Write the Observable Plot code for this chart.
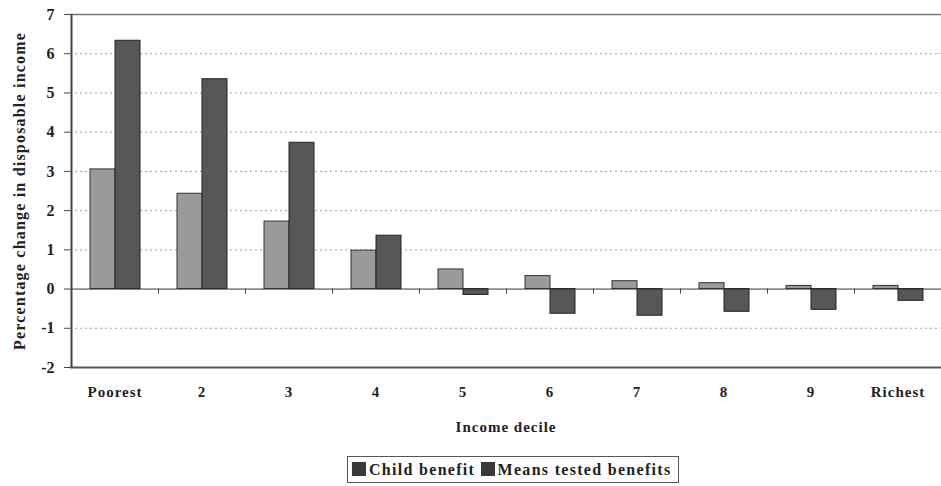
<!DOCTYPE html>
<html>
<head>
<meta charset="utf-8">
<script src="https://cdn.jsdelivr.net/npm/d3@7"></script>
<script src="https://cdn.jsdelivr.net/npm/@observablehq/plot@0.6"></script>
<style>
  html, body { margin: 0; padding: 0; background: #fff; }
  #chart svg { display: block; }
  #chart svg text { font-family: "Liberation Serif", serif; font-weight: bold; fill: #222; }
  #chart svg g[aria-label="y-axis tick label"] text { font-size: 16px; }
  #chart svg g[aria-label="y-axis label"] text { font-size: 16px; letter-spacing: 1.2px; }
  #chart svg g[aria-label="x-axis tick label"] text { font-size: 15px; letter-spacing: 1px; }
  #chart svg g[aria-label="x-axis label"] text { font-size: 15px; letter-spacing: 1px; }
  .legend {
    position: absolute; left: 347px; top: 456px;
    border: 1px solid #555; padding: 2px 6px 2px 4px;
    font-family: "Liberation Serif", serif; font-weight: bold; font-size: 16px;
    letter-spacing: 1.3px; color: #222; white-space: nowrap; line-height: 21px;
  }
  .legend .sw { display: inline-block; width: 14px; height: 14px; background: #3a3a3a; vertical-align: -1px; margin-right: 3px; }
</style>
</head>
<body>
<div id="chart"></div>
<div class="legend"><span class="sw"></span>Child benefit <span class="sw"></span>Means tested benefits</div>
<script>
const deciles = ["Poorest", "2", "3", "4", "5", "6", "7", "8", "9", "Richest"];
const childBenefit = [3.05, 2.43, 1.72, 0.98, 0.5, 0.33, 0.2, 0.15, 0.08, 0.08];
const meansTested = [6.33, 5.35, 3.73, 1.36, -0.15, -0.63, -0.68, -0.58, -0.53, -0.3];
const yTicks = [-2, -1, 0, 1, 2, 3, 4, 5, 6, 7];
const gridTicks = [-1, 1, 2, 3, 4, 5, 6];

const child = deciles.map((d, i) => ({decile: d, value: childBenefit[i]}));
const means = deciles.map((d, i) => ({decile: d, value: meansTested[i]}));

const chart = Plot.plot({
  width: 941,
  height: 448,
  marginLeft: 70,
  marginRight: 0,
  marginTop: 14,
  marginBottom: 81,
  style: {fontFamily: "Liberation Serif, serif", fontSize: "15px", fontWeight: "bold", color: "#222", background: "#fff"},
  x: {domain: deciles, padding: 0},
  y: {domain: [-2, 7]},
  marks: [
    Plot.gridY(gridTicks, {stroke: "#888", strokeOpacity: 0.8, strokeDasharray: "2,3"}),
    Plot.ruleY([7], {stroke: "#777", strokeWidth: 1.5}),
    Plot.ruleY([-2], {stroke: "#555", strokeWidth: 2}),
    Plot.barY(child, {x: "decile", y: "value", fill: "#9a9a9a", stroke: "#333", strokeWidth: 1, insetLeft: 19, insetRight: 43}),
    Plot.barY(means, {x: "decile", y: "value", fill: "#575757", stroke: "#222", strokeWidth: 1, insetLeft: 44, insetRight: 18}),
    Plot.ruleY([0], {stroke: "#333", strokeWidth: 1}),
    Plot.ruleX(deciles.slice(1), {x: d => d, y1: 0, y2: 0, dx: -43.5, insetBottom: -5, stroke: "#444"}),
    Plot.ruleX(["Poorest"], {x: d => d, y1: -2, y2: 7, dx: -43.5, stroke: "#444", strokeWidth: 2}),
    Plot.axisY(yTicks, {tickSize: 6, tickPadding: 10, tickFormat: d => String(d), stroke: "#444",
      label: "Percentage change in disposable income", labelAnchor: "center", labelOffset: 57, labelArrow: "none"}),
    Plot.axisX({tickSize: 0, tickPadding: 19, label: "Income decile", labelAnchor: "center", labelOffset: 64, labelArrow: "none"})
  ]
});
document.getElementById("chart").appendChild(chart);
</script>
</body>
</html>
